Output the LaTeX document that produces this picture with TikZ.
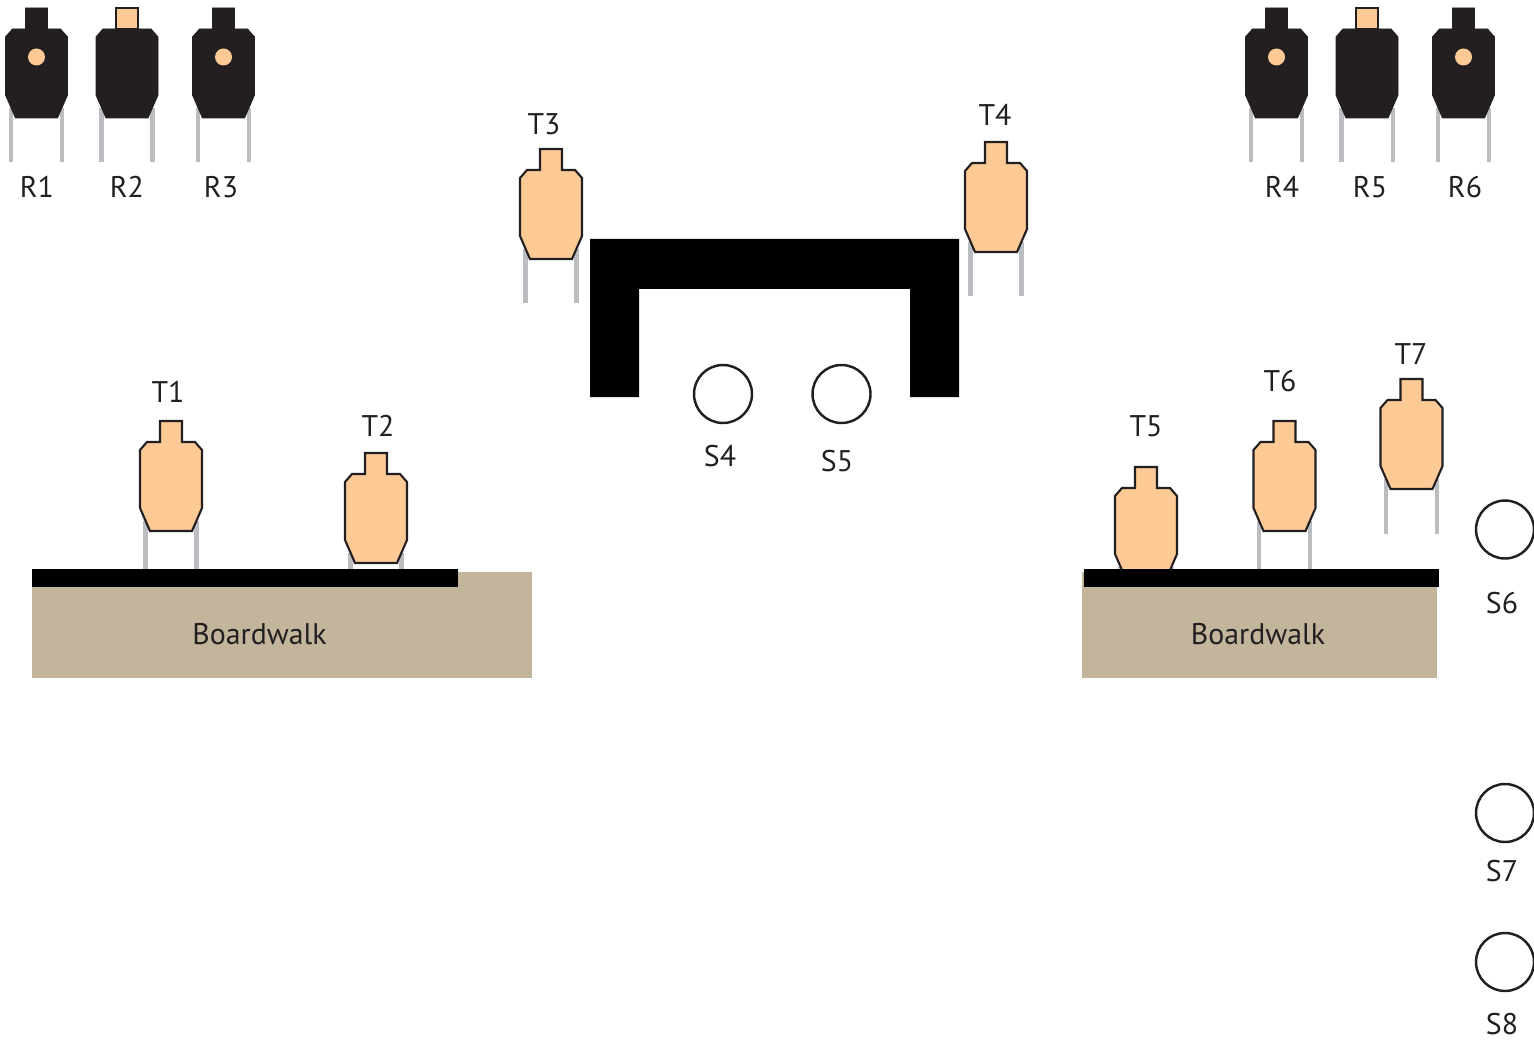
\documentclass[tikz,border=0pt]{standalone}
\usepackage{fontspec}
\setmainfont{PT Sans}
\usetikzlibrary{positioning}
\definecolor{targetfill}{HTML}{FDCA96}
\definecolor{targetdark}{HTML}{231F20}
\definecolor{legcolor}{HTML}{BCBDC0}
\definecolor{walkcolor}{HTML}{C2B59B}
\tikzset{
    lbl/.style={text=targetdark, font=\fontsize{17}{20}\selectfont, inner sep=0pt},
    station/.style={circle, draw=targetdark, line width=1.4pt, fill=white, minimum size=1.16cm, inner sep=0pt},
    legline/.style={legcolor, line width=2.3pt},
    pics/silhouette/.style={code={
        \draw[legline] (-25.5,100) -- (-25.5,154.5);
        \draw[legline] (25.5,100) -- (25.5,154.5);
        \draw[#1] (-11,0) -- (11,0) -- (11,21) -- (24,21) -- (31,29) -- (31,87) -- (21,110)
            -- (-21,110) -- (-31,87) -- (-31,29) -- (-24,21) -- (-11,21) -- cycle;
    }}
}

\begin{document}
\begin{tikzpicture}[x=0.02cm, y=-0.02cm]
    \path[use as bounding box] (0,0) rectangle (1534,1057);

    % Range targets (R1-R6)
    \foreach \x in {36.5,127,223.5,1276.5,1367,1463.5} {
        \pic at (\x,8) {silhouette={draw=targetdark, fill=targetdark, line width=0.5pt}};
    }
    \foreach \x in {36.5,223.5,1276.5,1463.5} {
        \fill[targetfill] (\x,57) circle (8.5);
    }
    \foreach \x in {127,1367} {
        \draw[targetdark, fill=targetfill, line width=1.2pt] (\x-11,8) rectangle (\x+11,29);
    }

    % Open targets (T1-T7)
    \foreach \x/\y in {171/421,376/453,551/149,996/142,1146/467,1284.5/421,1411.5/379} {
        \pic at (\x,\y) {silhouette={draw=targetdark, fill=targetfill, line width=1.2pt}};
    }

    % Wall
    \fill[black] (590,239) -- (959,239) -- (959,397) -- (910,397) -- (910,289)
        -- (639,289) -- (639,397) -- (590,397) -- cycle;

    % Boardwalks
    \fill[walkcolor] (32,572) rectangle (532,678);
    \fill[black] (32,569) rectangle (458,587);
    \fill[walkcolor] (1082,572) rectangle (1437,678);
    \fill[black] (1084,569) rectangle (1439,587);
    \node[lbl] (walkL) at (259.5,634) {Boardwalk};
    \node[lbl] (walkR) at (1258,634) {Boardwalk};

    % Shooting stations
    \foreach \name/\x/\y in {S4/723/394,S5/841.5/394,S6/1505/529.5,S7/1505/813,S8/1505/962} {
        \node[station] (\name) at (\x,\y) {};
    }

    % Labels
    \foreach \name/\x/\y in {R1/37/187,R2/127/187,R3/221/187,R4/1282/187,R5/1370/187,R6/1465/187,
        T1/168/392,T2/378/426,T3/544/124,T4/995/115,T5/1146/426,T6/1280/381,T7/1411/354,
        S4/720/456,S5/837/461,S6/1502/603,S7/1502/871,S8/1502/1024} {
        \node[lbl] (lbl\name) at (\x,\y) {\name};
    }
\end{tikzpicture}
\end{document}
